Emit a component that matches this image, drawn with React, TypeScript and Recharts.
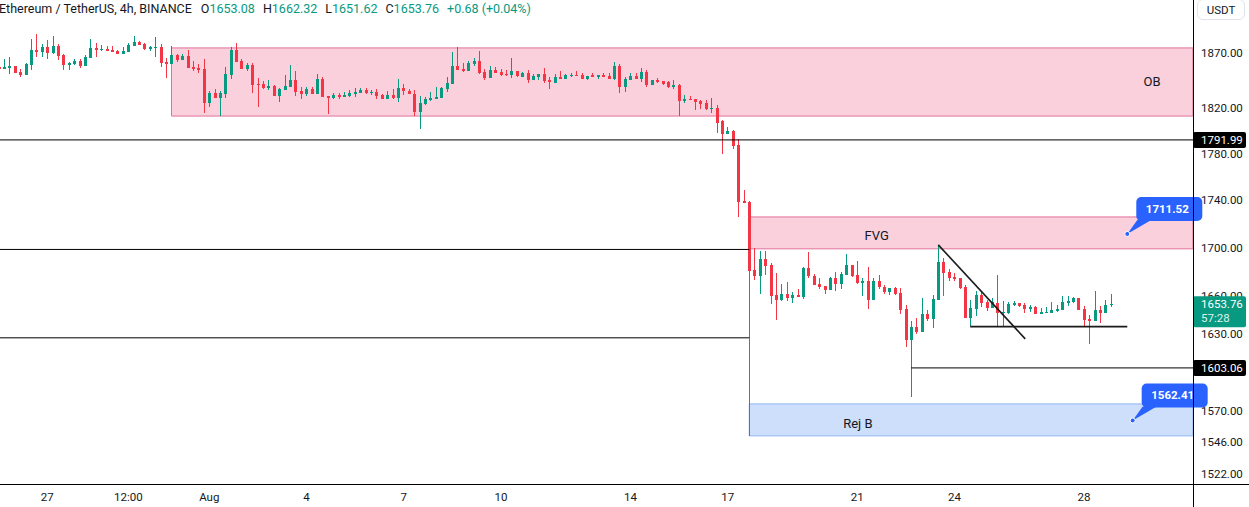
import React from 'react';
import {
  Bar,
  ComposedChart,
  ReferenceArea,
  ReferenceDot,
  ReferenceLine,
  XAxis,
  YAxis,
} from 'recharts';

// ETHUSDT 4h, one slot per candle, slot 0 = 27 Jul 00:00
const FIRST_SLOT = -9;

const OPEN = [
  1857.0, 1855.5, 1856.4, 1857.9, 1852.8, 1850.1, 1859.1, 1872.6, 1871.0, 1875.3,
  1869.8, 1876.5, 1868.0, 1859.1, 1859.8, 1862.5, 1858.2, 1865.2, 1874.4, 1872.6,
  1873.5, 1872.6, 1871.7, 1868.9, 1870.8, 1876.2, 1879.9, 1878.1, 1873.8, 1874.7,
  1875.3, 1861.6, 1860.0, 1868.0, 1863.4, 1867.1, 1856.8, 1856.1, 1855.2, 1825.0,
  1833.6, 1829.4, 1833.0, 1850.1, 1872.6, 1862.5, 1855.5, 1858.9, 1842.0, 1842.0,
  1838.4, 1840.2, 1831.2, 1836.6, 1839.3, 1845.6, 1835.7, 1833.0, 1837.5, 1833.0,
  1846.5, 1831.2, 1829.4, 1832.1, 1830.3, 1831.2, 1833.0, 1833.9, 1836.6, 1834.3,
  1834.8, 1832.1, 1828.6, 1831.8, 1829.2, 1838.1, 1835.4, 1832.7, 1816.7, 1823.8,
  1827.4, 1828.3, 1829.2, 1837.2, 1841.7, 1857.9, 1855.2, 1853.4, 1859.8, 1862.5,
  1852.5, 1847.1, 1854.3, 1852.5, 1850.7, 1849.8, 1853.4, 1848.0, 1851.6, 1845.3,
  1848.0, 1850.7, 1845.3, 1842.6, 1848.0, 1846.2, 1849.2, 1850.1, 1850.1, 1846.5,
  1849.8, 1848.3, 1850.1, 1849.2, 1845.9, 1857.9, 1839.0, 1845.6, 1849.2, 1846.5,
  1852.5, 1840.8, 1845.6, 1844.1, 1843.5, 1839.3, 1840.5, 1826.5, 1828.3, 1828.3,
  1826.5, 1824.7, 1819.4, 1820.3, 1808.7, 1797.2, 1799.9, 1787.6, 1739.4, 1738.5,
  1681.7, 1677.0, 1690.8, 1685.9, 1661.2, 1657.0, 1662.1, 1658.8, 1661.2, 1659.6,
  1683.3, 1676.7, 1670.2, 1668.6, 1665.3, 1675.1, 1670.2, 1677.6, 1685.9, 1677.6,
  1671.0, 1672.7, 1657.2, 1672.7, 1667.8, 1663.7, 1666.9, 1662.9, 1650.0, 1625.2,
  1635.5, 1631.5, 1646.0, 1641.9, 1657.2, 1687.8, 1680.1, 1675.9, 1675.1, 1667.8,
  1642.7, 1650.0, 1661.2, 1655.6, 1650.8, 1654.8, 1646.8, 1646.8, 1653.2, 1654.8,
  1653.2, 1650.0, 1651.6, 1646.0, 1646.8, 1646.8, 1648.4, 1649.2, 1654.8, 1655.6,
  1658.8, 1650.0, 1641.9, 1640.3, 1649.2, 1646.8, 1653.08,
];

const HIGH = [
  1857.9, 1864.3, 1866.2, 1858.2, 1855.2, 1860.7, 1882.6, 1887.2, 1878.1, 1881.7,
  1885.4, 1878.1, 1868.9, 1861.6, 1864.3, 1864.3, 1868.0, 1882.6, 1878.7, 1877.2,
  1876.2, 1876.2, 1872.6, 1875.3, 1879.0, 1885.4, 1880.8, 1879.0, 1876.5, 1884.5,
  1878.1, 1865.2, 1876.2, 1868.9, 1868.9, 1872.6, 1862.5, 1859.8, 1864.3, 1835.4,
  1836.9, 1835.4, 1857.0, 1875.3, 1879.0, 1864.3, 1860.7, 1860.7, 1847.1, 1844.7,
  1845.3, 1841.1, 1838.4, 1849.8, 1858.9, 1853.4, 1839.3, 1839.3, 1839.3, 1850.7,
  1848.0, 1831.2, 1833.9, 1833.9, 1834.8, 1836.6, 1838.4, 1838.4, 1838.4, 1836.6,
  1837.5, 1833.0, 1835.7, 1837.2, 1846.2, 1841.7, 1837.2, 1836.3, 1831.0, 1830.1,
  1834.5, 1839.0, 1839.0, 1848.0, 1870.8, 1875.3, 1860.7, 1862.5, 1865.2, 1871.7,
  1855.2, 1857.9, 1857.0, 1855.2, 1854.3, 1865.2, 1853.4, 1852.5, 1854.3, 1850.7,
  1850.7, 1856.1, 1848.0, 1850.7, 1853.4, 1850.7, 1851.6, 1853.4, 1851.6, 1849.2,
  1851.6, 1849.8, 1851.6, 1851.6, 1861.6, 1859.8, 1848.3, 1851.6, 1851.6, 1856.1,
  1854.3, 1845.6, 1847.1, 1844.1, 1844.4, 1845.3, 1841.7, 1831.8, 1831.0, 1828.3,
  1827.4, 1827.4, 1829.2, 1822.9, 1809.6, 1803.4, 1800.8, 1792.9, 1748.8, 1739.4,
  1699.9, 1697.4, 1697.4, 1687.5, 1679.2, 1670.2, 1671.9, 1663.7, 1666.1, 1684.2,
  1696.6, 1678.4, 1675.1, 1668.6, 1675.9, 1680.1, 1680.1, 1694.9, 1685.9, 1689.2,
  1675.1, 1684.2, 1675.1, 1677.6, 1669.4, 1666.9, 1667.8, 1666.9, 1653.2, 1640.3,
  1642.7, 1658.8, 1649.2, 1661.2, 1702.4, 1691.6, 1682.5, 1679.2, 1675.1, 1669.4,
  1657.2, 1664.5, 1664.5, 1657.2, 1658.8, 1677.6, 1656.4, 1655.6, 1656.4, 1654.8,
  1654.8, 1653.2, 1652.4, 1650.8, 1651.6, 1655.6, 1653.2, 1660.4, 1660.4, 1659.6,
  1658.8, 1652.4, 1645.1, 1664.5, 1652.4, 1657.2, 1662.32,
];

const LOW = [
  1854.3, 1854.9, 1851.0, 1851.6, 1848.3, 1849.8, 1854.3, 1866.4, 1866.2, 1864.3,
  1869.2, 1863.4, 1854.3, 1854.3, 1859.1, 1856.4, 1857.9, 1865.2, 1865.5, 1872.0,
  1871.7, 1870.8, 1868.9, 1868.9, 1870.8, 1876.2, 1877.2, 1872.6, 1872.0, 1866.4,
  1857.3, 1847.4, 1860.0, 1861.9, 1863.4, 1856.4, 1853.7, 1851.3, 1816.1, 1821.4,
  1829.4, 1813.1, 1829.4, 1846.5, 1861.9, 1855.5, 1853.7, 1833.9, 1821.4, 1837.5,
  1836.6, 1831.2, 1825.9, 1836.6, 1839.3, 1831.2, 1828.6, 1831.2, 1833.0, 1833.0,
  1830.3, 1815.2, 1828.6, 1828.6, 1830.3, 1830.3, 1830.3, 1833.9, 1833.0, 1832.1,
  1828.6, 1828.6, 1828.6, 1828.3, 1825.6, 1831.8, 1832.7, 1813.1, 1801.7, 1822.9,
  1826.5, 1828.3, 1829.2, 1834.5, 1841.7, 1854.3, 1852.5, 1853.4, 1857.9, 1850.7,
  1845.3, 1847.1, 1851.6, 1848.9, 1848.9, 1847.1, 1848.0, 1848.0, 1842.6, 1845.3,
  1845.3, 1842.6, 1837.2, 1842.6, 1846.2, 1846.2, 1848.3, 1849.2, 1846.5, 1845.6,
  1848.3, 1846.5, 1848.3, 1846.5, 1845.3, 1833.6, 1834.5, 1845.6, 1846.5, 1843.8,
  1839.0, 1840.8, 1842.9, 1840.2, 1838.4, 1837.5, 1813.1, 1824.7, 1827.4, 1818.5,
  1819.4, 1818.5, 1815.8, 1798.1, 1779.8, 1797.2, 1784.2, 1725.8, 1737.7, 1550.7,
  1673.3, 1662.1, 1677.8, 1654.0, 1641.1, 1656.4, 1656.4, 1654.8, 1659.6, 1658.0,
  1675.1, 1669.4, 1666.1, 1662.1, 1665.3, 1664.5, 1666.1, 1677.6, 1675.9, 1670.2,
  1660.4, 1650.0, 1657.2, 1666.1, 1662.1, 1661.2, 1661.2, 1646.0, 1619.6, 1580.7,
  1629.9, 1631.5, 1640.3, 1634.7, 1657.2, 1660.4, 1672.7, 1672.7, 1666.1, 1642.7,
  1636.3, 1644.3, 1651.6, 1648.4, 1650.8, 1636.3, 1636.3, 1646.0, 1652.4, 1651.6,
  1646.8, 1647.6, 1646.0, 1646.0, 1646.8, 1646.8, 1647.6, 1649.2, 1652.4, 1654.8,
  1649.2, 1636.3, 1622.0, 1640.3, 1638.7, 1646.8, 1651.62,
];

const CLOSE = [
  1855.2, 1857.3, 1857.9, 1851.9, 1849.8, 1860.0, 1872.6, 1870.8, 1875.3, 1869.8,
  1876.2, 1867.4, 1859.1, 1860.9, 1862.5, 1857.9, 1866.2, 1874.4, 1872.6, 1873.5,
  1871.7, 1870.8, 1868.9, 1871.7, 1877.2, 1879.9, 1877.2, 1873.5, 1875.6, 1875.3,
  1860.9, 1860.0, 1868.0, 1863.4, 1867.1, 1856.4, 1854.9, 1854.3, 1825.0, 1833.6,
  1829.4, 1833.6, 1850.7, 1872.6, 1861.9, 1855.5, 1858.9, 1841.1, 1841.1, 1838.4,
  1840.2, 1831.2, 1837.5, 1840.2, 1845.6, 1834.8, 1833.0, 1837.5, 1833.0, 1846.5,
  1830.3, 1829.4, 1832.1, 1830.3, 1832.1, 1833.9, 1834.8, 1836.6, 1833.9, 1834.8,
  1831.2, 1828.6, 1832.1, 1829.2, 1838.1, 1835.4, 1832.7, 1816.7, 1824.7, 1828.3,
  1829.2, 1830.1, 1838.1, 1842.6, 1857.9, 1854.3, 1853.4, 1860.7, 1862.5, 1851.6,
  1847.1, 1854.3, 1851.6, 1849.8, 1849.8, 1853.4, 1848.9, 1851.6, 1845.3, 1848.9,
  1850.7, 1844.4, 1843.5, 1848.0, 1846.2, 1849.8, 1850.1, 1849.2, 1846.5, 1849.2,
  1848.3, 1849.8, 1848.3, 1846.5, 1857.9, 1839.0, 1846.5, 1849.2, 1846.5, 1852.5,
  1840.8, 1845.6, 1843.5, 1842.0, 1839.0, 1840.5, 1826.8, 1828.3, 1827.4, 1825.6,
  1823.8, 1819.4, 1820.3, 1806.9, 1797.2, 1799.9, 1786.8, 1738.5, 1737.7, 1681.1,
  1677.0, 1690.8, 1685.3, 1660.4, 1657.2, 1662.1, 1658.8, 1661.2, 1659.6, 1683.3,
  1676.7, 1669.4, 1667.8, 1665.3, 1675.1, 1670.2, 1678.4, 1685.9, 1676.7, 1671.0,
  1672.7, 1657.2, 1672.7, 1667.8, 1663.7, 1666.9, 1662.1, 1649.2, 1625.2, 1635.5,
  1631.5, 1646.0, 1641.9, 1658.0, 1687.8, 1679.2, 1675.1, 1674.3, 1666.9, 1642.7,
  1650.8, 1661.2, 1654.8, 1650.8, 1655.6, 1646.8, 1647.6, 1654.0, 1654.8, 1652.4,
  1650.0, 1651.6, 1646.0, 1647.6, 1647.6, 1649.2, 1650.0, 1655.6, 1656.4, 1658.8,
  1649.2, 1641.1, 1640.3, 1649.2, 1646.8, 1653.2, 1653.76,
];

const TIME_TICKS = [0, 15, 30, 48, 66, 84, 108, 126, 150, 168, 192];
const TIME_LABELS = ['27', '12:00', 'Aug', '4', '7', '10', '14', '17', '21', '24', '28'];
const PRICE_TICKS = [1522, 1546, 1570, 1630, 1700, 1740, 1780, 1820, 1870];
// this tick sits under the live price tag, drawn just before it
const HIDDEN_TICK = 1660;

// drawn levels and zones
const OB_ZONE = { from: 23, low: 1813.0, high: 1874.4 };
const FVG_ZONE = { from: 130, low: 1699.1, high: 1725.8 };
const REJ_ZONE = { from: 130, low: 1550.7, high: 1575.1 };
const LEVEL_TOP = 1791.99;
const LEVEL_MID = 1698.6;
const LEVEL_LOW = 1626.8;
const LEVEL_WICK = 1603.06;
const TREND = [
  { x: 165, y: 1702.4 },
  { x: 181.1, y: 1626.0 },
];
const BASE = [
  { x: 170.9, y: 1635.7 },
  { x: 200, y: 1635.7 },
];
const LAST = { o: 1653.08, h: 1662.32, l: 1651.62, c: 1653.76, chg: '+0.68 (+0.04%)' };

const X_MIN = -8.76;
const X_MAX = 212.17;
const Y_MIN = 1514.65;
const Y_MAX = 1918.8;

const UP = '#089981';
const DOWN = '#f23645';
const INK = '#131722';
const FONT = 'Roboto, "Noto Sans", sans-serif';
const AXIS_FS = 11.5;

const candles = OPEN.map((o, i) => ({
  t: FIRST_SLOT + i,
  o,
  h: HIGH[i],
  l: LOW[i],
  c: CLOSE[i],
  range: [LOW[i], HIGH[i]],
}));

function Candle(props: any) {
  const { x, y, width, height, payload } = props;
  if (x == null || y == null) return null;
  const { o, h, l, c } = payload;
  const top = Math.min(y, y + height);
  const span = Math.abs(height);
  const lh = Math.log(h);
  const ll = Math.log(l);
  const toY = (v: number) => (lh === ll ? top : top + ((lh - Math.log(v)) / (lh - ll)) * span);
  const color = c >= o ? UP : DOWN;
  const mid = Math.round(x + width / 2);
  const yo = toY(o);
  const yc = toY(c);
  const bTop = Math.round(Math.min(yo, yc));
  const bH = Math.max(1, Math.round(Math.max(yo, yc)) - bTop);
  return (
    <g>
      <rect x={mid} y={Math.round(top)} width={1} height={Math.max(1, Math.round(span))} fill={color} />
      <rect x={mid - 1} y={bTop} width={3} height={bH} fill={color} />
    </g>
  );
}

function ZoneText(props: any) {
  const { cx, cy, text } = props;
  return (
    <text x={cx} y={cy} textAnchor="middle" dominantBaseline="central" fontSize={13} fill={INK} fontFamily={FONT}>
      {text}
    </text>
  );
}

function Callout(props: any) {
  const { cx, cy, text } = props;
  return (
    <g>
      <path d={`M${cx},${cy} L${cx + 10},${cy - 14} L${cx + 24},${cy - 14} Z`} fill="#2962ff" />
      <rect x={cx + 9} y={cy - 37} width={66} height={24} rx={5} fill="#2962ff" />
      <text
        x={cx + 40}
        y={cy - 25}
        textAnchor="middle"
        dominantBaseline="central"
        fill="#fff"
        fontSize={11.5}
        fontWeight={700}
        fontFamily={FONT}
      >
        {text}
      </text>
      <circle cx={cx} cy={cy} r={2.5} fill="#2962ff" stroke="#fff" strokeWidth={1} />
    </g>
  );
}

function AxisTag(props: any) {
  const { cx, cy, text } = props;
  return (
    <g>
      <rect x={cx} y={cy - 8} width={53} height={16} rx={2} fill="#000" />
      <text x={cx + 8} y={cy} dominantBaseline="central" fill="#fff" fontSize={AXIS_FS} fontFamily={FONT}>
        {text}
      </text>
    </g>
  );
}

function TickText(props: any) {
  const { cx, cy, text } = props;
  return (
    <text x={cx + 8} y={cy} dominantBaseline="central" fill={INK} fontSize={AXIS_FS} fontFamily={FONT}>
      {text}
    </text>
  );
}

function LastTag(props: any) {
  const { cx, cy } = props;
  return (
    <g>
      <rect x={cx} y={cy - 8} width={53} height={31} rx={2} fill={UP} />
      <text x={cx + 8} y={cy} dominantBaseline="central" fill="#fff" fontSize={AXIS_FS} fontFamily={FONT}>
        {LAST.c.toFixed(2)}
      </text>
      <text x={cx + 8} y={cy + 14} dominantBaseline="central" fill="#dff3ee" fontSize={AXIS_FS} fontFamily={FONT}>
        57:28
      </text>
    </g>
  );
}

function Header() {
  const item = (k: string, v: number) => (
    <span style={{ marginLeft: 8 }}>
      {k}
      <span style={{ color: UP }}>{v.toFixed(2)}</span>
    </span>
  );
  return (
    <div
      style={{
        position: 'absolute',
        left: -1,
        top: 0,
        height: 18,
        lineHeight: '18px',
        fontSize: 12.5,
        color: INK,
        whiteSpace: 'nowrap',
        fontFamily: FONT,
      }}
    >
      <span>Ethereum / TetherUS, 4h, BINANCE</span>
      <span style={{ marginLeft: 1 }} />
      {item('O', LAST.o)}
      {item('H', LAST.h)}
      {item('L', LAST.l)}
      {item('C', LAST.c)}
      <span style={{ marginLeft: 8, color: UP }}>{LAST.chg}</span>
    </div>
  );
}

export default function App() {
  const lineStyle = { stroke: '#000', strokeWidth: 1 };
  return (
    <div
      style={{
        position: 'absolute',
        left: 0,
        top: 0,
        width: 1249,
        height: 507,
        background: '#fff',
        overflow: 'hidden',
        fontFamily: FONT,
      }}
    >
      <ComposedChart width={1249} height={507} data={candles} margin={{ top: 0, right: 0, bottom: 0, left: 0 }}>
        <XAxis
          type="number"
          dataKey="t"
          domain={[X_MIN, X_MAX]}
          allowDataOverflow
          ticks={TIME_TICKS}
          interval={0}
          tickFormatter={(v: number) => TIME_LABELS[TIME_TICKS.indexOf(v)] ?? ''}
          axisLine={false}
          tickLine={false}
          tickSize={0}
          tickMargin={9}
          height={23}
          tick={{ fontSize: AXIS_FS, fill: INK, fontFamily: FONT }}
        />
        <YAxis
          orientation="right"
          type="number"
          scale="log"
          domain={[Y_MIN, Y_MAX]}
          allowDataOverflow
          ticks={PRICE_TICKS}
          interval={0}
          tickFormatter={(v: number) => v.toFixed(2)}
          axisLine={false}
          tickLine={false}
          tickSize={0}
          tickMargin={8}
          width={56}
          tick={{ fontSize: AXIS_FS, fill: INK, fontFamily: FONT, textAnchor: 'start' }}
        />
        <ReferenceArea
          x1={OB_ZONE.from}
          x2={X_MAX}
          y1={OB_ZONE.low}
          y2={OB_ZONE.high}
          fill="#f9d0dc"
          fillOpacity={1}
          stroke="#e2709a"
          strokeWidth={1}
        />
        <ReferenceArea
          x1={FVG_ZONE.from}
          x2={X_MAX}
          y1={FVG_ZONE.low}
          y2={FVG_ZONE.high}
          fill="#f9d0dc"
          fillOpacity={1}
          stroke="#e2709a"
          strokeWidth={1}
        />
        <ReferenceArea
          x1={REJ_ZONE.from}
          x2={X_MAX}
          y1={REJ_ZONE.low}
          y2={REJ_ZONE.high}
          fill="#cddffa"
          fillOpacity={1}
          stroke="#8fb4f3"
          strokeWidth={1}
        />
        <Bar dataKey="range" barSize={3} isAnimationActive={false} shape={Candle} />
        <ReferenceLine y={LEVEL_TOP} {...lineStyle} />
        <ReferenceLine segment={[{ x: X_MIN, y: LEVEL_MID }, { x: FVG_ZONE.from, y: LEVEL_MID }]} {...lineStyle} />
        <ReferenceLine segment={[{ x: X_MIN, y: LEVEL_LOW }, { x: FVG_ZONE.from, y: LEVEL_LOW }]} {...lineStyle} />
        <ReferenceLine segment={[{ x: 160, y: LEVEL_WICK }, { x: X_MAX, y: LEVEL_WICK }]} {...lineStyle} />
        <ReferenceLine segment={TREND} stroke="#1a1a1a" strokeWidth={1.6} />
        <ReferenceLine segment={BASE} stroke="#1a1a1a" strokeWidth={1.6} />
        <ReferenceDot x={204.6} y={1843.5} shape={(p: any) => <ZoneText {...p} text="OB" />} />
        <ReferenceDot x={153.6} y={1709.9} shape={(p: any) => <ZoneText {...p} text="FVG" />} />
        <ReferenceDot x={150.1} y={1559.8} shape={(p: any) => <ZoneText {...p} text="Rej B" />} />
        <ReferenceDot x={200} y={1711.52} ifOverflow="hidden" shape={(p: any) => <Callout {...p} text="1711.52" />} />
        <ReferenceDot x={201} y={1562.41} ifOverflow="hidden" shape={(p: any) => <Callout {...p} text="1562.41" />} />
        <ReferenceDot x={X_MAX} y={LEVEL_TOP} shape={(p: any) => <AxisTag {...p} text="1791.99" />} />
        <ReferenceDot x={X_MAX} y={LEVEL_WICK} shape={(p: any) => <AxisTag {...p} text="1603.06" />} />
        <ReferenceDot x={X_MAX} y={HIDDEN_TICK} shape={(p: any) => <TickText {...p} text={HIDDEN_TICK.toFixed(2)} />} />
        <ReferenceDot x={X_MAX} y={LAST.c} shape={LastTag} />
      </ComposedChart>
      <Header />
      <div style={{ position: 'absolute', left: 0, top: 484, width: 1249, height: 1, background: '#000' }} />
      <div style={{ position: 'absolute', left: 1193, top: 0, width: 1, height: 507, background: '#000' }} />
      <div
        style={{
          position: 'absolute',
          left: 1197,
          top: -1,
          width: 48,
          height: 21,
          border: '1px solid #e0e3eb',
          borderRadius: 6,
          boxSizing: 'border-box',
          fontSize: 11.5,
          lineHeight: '21px',
          textAlign: 'center',
          color: INK,
          background: '#fff',
        }}
      >
        USDT
      </div>
    </div>
  );
}
